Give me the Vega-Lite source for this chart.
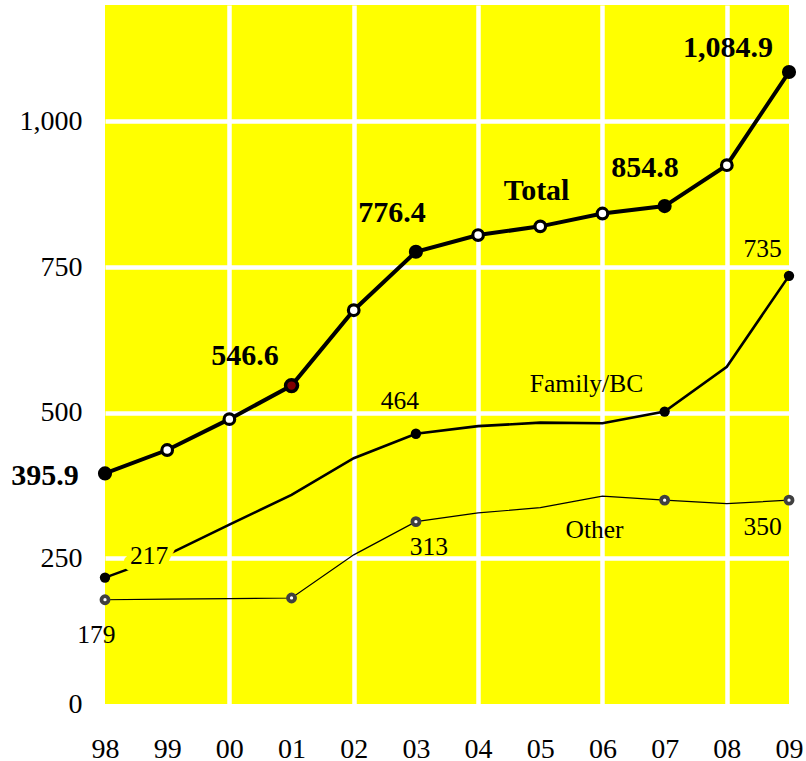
{
  "$schema": "https://vega.github.io/schema/vega-lite/v6.json",
  "width": 684,
  "height": 699,
  "autosize": {"type": "none"},
  "padding": {"left": 105, "top": 5, "right": 17, "bottom": 57},
  "background": "white",
  "config": {
    "view": {"fill": "#ffff00", "stroke": null},
    "font": "Liberation Serif"
  },
  "datasets": {
    "series": [
      {"year": 1998, "series": "Total", "value": 395.9},
      {"year": 1999, "series": "Total", "value": 436},
      {"year": 2000, "series": "Total", "value": 489},
      {"year": 2001, "series": "Total", "value": 546.6},
      {"year": 2002, "series": "Total", "value": 676},
      {"year": 2003, "series": "Total", "value": 776.4},
      {"year": 2004, "series": "Total", "value": 805},
      {"year": 2005, "series": "Total", "value": 820},
      {"year": 2006, "series": "Total", "value": 842},
      {"year": 2007, "series": "Total", "value": 854.8},
      {"year": 2008, "series": "Total", "value": 925},
      {"year": 2009, "series": "Total", "value": 1084.9},
      {"year": 1998, "series": "Family/BC", "value": 217},
      {"year": 1999, "series": "Family/BC", "value": 256},
      {"year": 2000, "series": "Family/BC", "value": 308},
      {"year": 2001, "series": "Family/BC", "value": 359},
      {"year": 2002, "series": "Family/BC", "value": 422},
      {"year": 2003, "series": "Family/BC", "value": 464},
      {"year": 2004, "series": "Family/BC", "value": 477},
      {"year": 2005, "series": "Family/BC", "value": 483},
      {"year": 2006, "series": "Family/BC", "value": 482},
      {"year": 2007, "series": "Family/BC", "value": 502},
      {"year": 2008, "series": "Family/BC", "value": 579},
      {"year": 2009, "series": "Family/BC", "value": 735},
      {"year": 1998, "series": "Other", "value": 179},
      {"year": 1999, "series": "Other", "value": 180},
      {"year": 2000, "series": "Other", "value": 181},
      {"year": 2001, "series": "Other", "value": 182},
      {"year": 2002, "series": "Other", "value": 256},
      {"year": 2003, "series": "Other", "value": 313},
      {"year": 2004, "series": "Other", "value": 328},
      {"year": 2005, "series": "Other", "value": 337},
      {"year": 2006, "series": "Other", "value": 357},
      {"year": 2007, "series": "Other", "value": 350},
      {"year": 2008, "series": "Other", "value": 344},
      {"year": 2009, "series": "Other", "value": 350}
    ],
    "notes": [
      {"year": 1997.035, "value": 375.8, "series": "Total", "label": "395.9"},
      {"year": 2000.25, "value": 581.7, "series": "Total", "label": "546.6"},
      {"year": 2002.616, "value": 827.6, "series": "Total", "label": "776.4"},
      {"year": 2004.942, "value": 865.8, "series": "Total", "label": "Total"},
      {"year": 2006.684, "value": 904.8, "series": "Total", "label": "854.8"},
      {"year": 2008.02, "value": 1110.7, "series": "Total", "label": "1,084.9"},
      {"year": 1998.71, "value": 241, "series": "Family/BC", "label": "217"},
      {"year": 2002.744, "value": 505.6, "series": "Family/BC", "label": "464"},
      {"year": 2005.744, "value": 535.9, "series": "Family/BC", "label": "Family/BC"},
      {"year": 2008.574, "value": 767.5, "series": "Family/BC", "label": "735"},
      {"year": 1997.861, "value": 104, "series": "Other", "label": "179"},
      {"year": 2003.21, "value": 255.7, "series": "Other", "label": "313"},
      {"year": 2005.872, "value": 284.8, "series": "Other", "label": "Other"},
      {"year": 2008.574, "value": 290, "series": "Other", "label": "350"}
    ]
  },
  "encoding": {
    "x": {
      "field": "year",
      "type": "quantitative",
      "scale": {"domain": [1998, 2009], "nice": false, "zero": false},
      "axis": {
        "title": null,
        "values": [1998, 1999, 2000, 2001, 2002, 2003, 2004, 2005, 2006, 2007, 2008, 2009],
        "labelExpr": "substring(toString(datum.value), 2)",
        "labelFlush": false,
        "labelFont": "Liberation Serif",
        "labelFontSize": 28,
        "labelColor": "black",
        "labelBaseline": "alphabetic",
        "labelPadding": 53,
        "domain": false,
        "ticks": false,
        "grid": true,
        "gridColor": "white",
        "gridWidth": 4.5,
        "gridOpacity": {"condition": {"test": "datum.value % 2 == 0 && datum.value > 1998", "value": 1}, "value": 0}
      }
    },
    "y": {
      "field": "value",
      "type": "quantitative",
      "scale": {"domain": [0, 1200], "nice": false, "zero": true},
      "axis": {
        "title": null,
        "values": [0, 250, 500, 750, 1000],
        "format": ",d",
        "labelFont": "Liberation Serif",
        "labelFontSize": 28,
        "labelColor": "black",
        "labelPadding": 23,
        "domain": false,
        "ticks": false,
        "grid": true,
        "gridColor": "white",
        "gridWidth": 4.5,
        "gridOpacity": {"condition": {"test": "datum.value > 0", "value": 1}, "value": 0}
      }
    }
  },
  "layer": [
    {
      "data": {"name": "series"},
      "mark": {"type": "line", "color": "black", "clip": false},
      "encoding": {
        "detail": {"field": "series"},
        "strokeWidth": {
          "field": "series",
          "type": "nominal",
          "scale": {"domain": ["Total", "Family/BC", "Other"], "range": [4, 1.2, 1.2]},
          "legend": null
        }
      }
    },
    {
      "data": {"name": "notes"},
      "transform": [{"filter": "datum.label == '217'"}],
      "mark": {"type": "text", "font": "Liberation Serif", "fontSize": 25.5, "align": "center", "baseline": "alphabetic", "stroke": "#ffff00", "strokeWidth": 14, "strokeJoin": "round", "fill": "#ffff00"},
      "encoding": {"text": {"field": "label"}}
    },
    {
      "data": {"name": "series"},
      "transform": [{"filter": "datum.series == 'Other' && indexof([1998, 2001, 2003, 2007, 2009], datum.year) >= 0"}],
      "mark": {"type": "circle", "fill": "white", "stroke": "#404040", "strokeWidth": 3.8, "size": 50, "opacity": 1, "clip": false}
    },
    {
      "data": {"name": "series"},
      "transform": [{"filter": "datum.series == 'Family/BC' && indexof([1998, 2003, 2007, 2009], datum.year) >= 0"}],
      "mark": {"type": "circle", "fill": "black", "size": 107, "opacity": 1, "clip": false}
    },
    {
      "data": {"name": "series"},
      "transform": [{"filter": "datum.series == 'Total' && indexof([1999, 2000, 2002, 2004, 2005, 2006, 2008], datum.year) >= 0"}],
      "mark": {"type": "circle", "fill": "white", "stroke": "black", "strokeWidth": 3.2, "size": 113, "opacity": 1, "clip": false}
    },
    {
      "data": {"name": "series"},
      "transform": [{"filter": "datum.series == 'Total' && indexof([1998, 2003, 2007, 2009], datum.year) >= 0"}],
      "mark": {"type": "circle", "fill": "black", "size": 200, "opacity": 1, "clip": false}
    },
    {
      "data": {"name": "series"},
      "transform": [{"filter": "datum.series == 'Total' && datum.year == 2001"}],
      "mark": {"type": "circle", "fill": "#800000", "stroke": "black", "strokeWidth": 3.5, "size": 143, "opacity": 1, "clip": false}
    },
    {
      "data": {"name": "notes"},
      "transform": [{"filter": "datum.series == 'Total'"}],
      "mark": {"type": "text", "font": "Liberation Serif", "fontSize": 30, "fontWeight": "bold", "align": "center", "baseline": "alphabetic", "color": "black"},
      "encoding": {"text": {"field": "label"}}
    },
    {
      "data": {"name": "notes"},
      "transform": [{"filter": "datum.series != 'Total'"}],
      "mark": {"type": "text", "font": "Liberation Serif", "fontSize": 25.5, "align": "center", "baseline": "alphabetic", "color": "black"},
      "encoding": {"text": {"field": "label"}}
    }
  ]
}
